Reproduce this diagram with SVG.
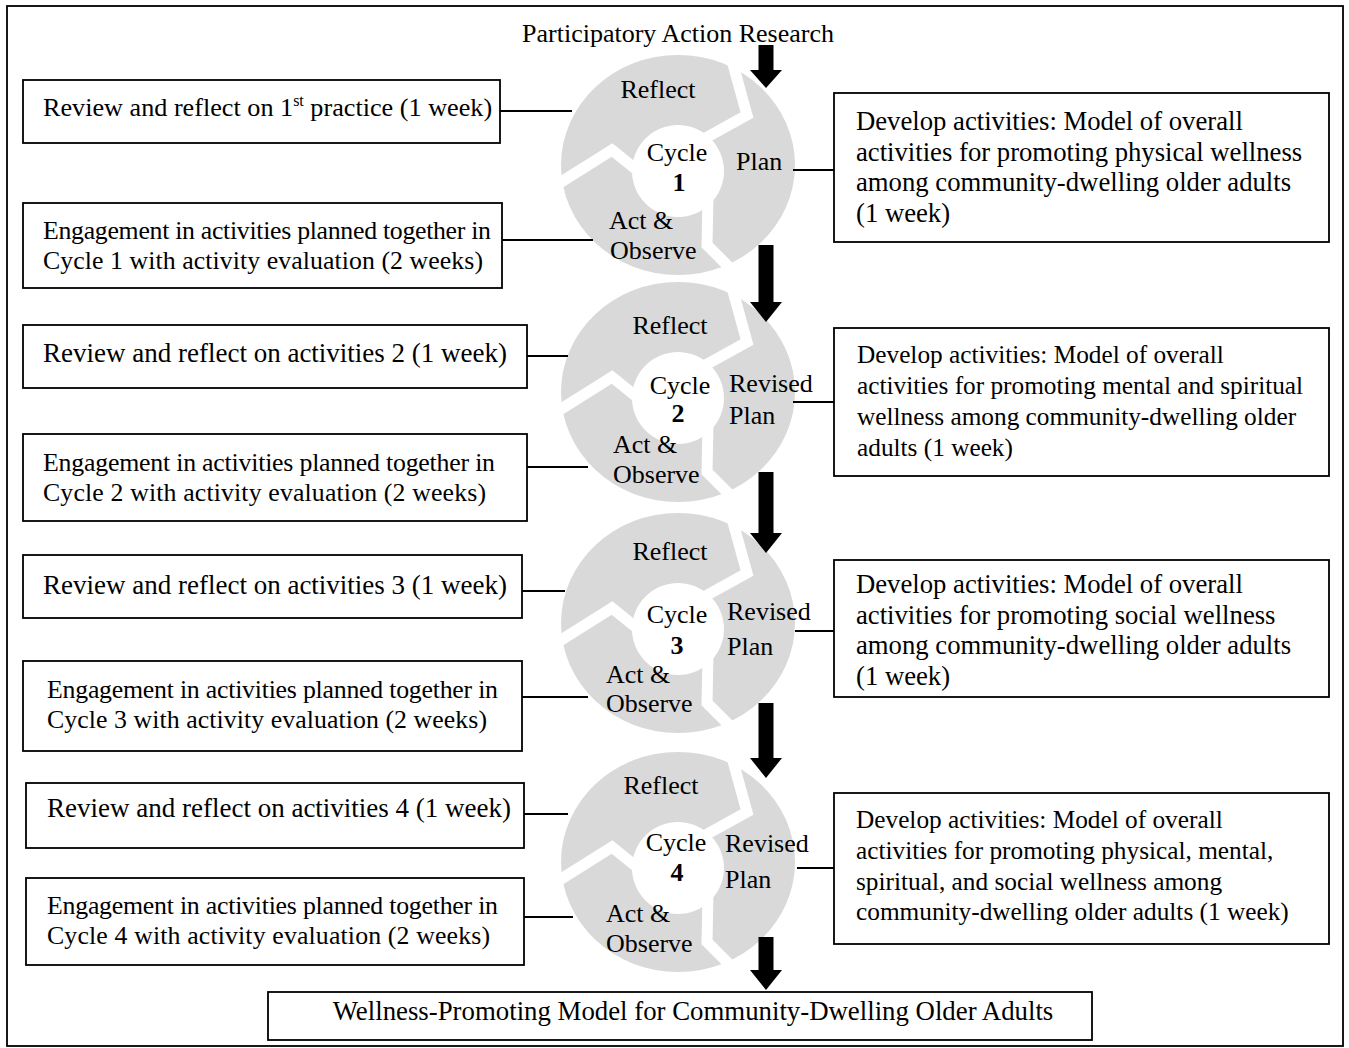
<svg xmlns="http://www.w3.org/2000/svg" xmlns:xlink="http://www.w3.org/1999/xlink" width="1349" height="1048" viewBox="0 0 1349 1048">
<style>
  text { font-family: "Liberation Serif", "Times New Roman", serif; fill: #000; }
  .t { font-size: 26px; }
  .rv { font-size: 27px; }
  .en { font-size: 25.8px; }
  .big { font-size: 26.7px; }
  .sm { font-size: 25.3px; }
  .c { font-size: 26px; }
  .b { font-weight: bold; }
  .box { fill: #fff; stroke: #000; stroke-width: 1.8; }
  .ln { stroke: #000; stroke-width: 1.8; fill: none; }
  .arr { fill: #000; }
  .ring { fill: #d9d9d9; fill-rule: evenodd; }
  .gap { fill: none; stroke: #fff; stroke-width: 11; stroke-linejoin: miter; stroke-miterlimit: 8; }
</style>
<defs>
  <g id="ringShape">
    <path class="ring" d="M -117,-6 A 117,110 0 1,0 117,-6 A 117,110 0 1,0 -117,-6 Z M -46,0 A 46,46 0 1,0 46,0 A 46,46 0 1,0 -46,0 Z"/>
    <polyline class="gap" points="50,-125 69,-56 22,-30"/>
    <polyline class="gap" points="-128,18 -66,-21 -35,4"/>
    <polyline class="gap" points="30,25 29,74 63,108"/>
  </g>
</defs>
<rect x="7" y="6" width="1336" height="1040" fill="#fff" stroke="#000" stroke-width="1.8"/>

<g id="title">
  <text class="t" x="678" y="42" text-anchor="middle" font-size="26.6">Participatory Action Research</text>
</g>

<!-- Cycle 1 -->
<g id="cycle1">
  <use xlink:href="#ringShape" href="#ringShape" transform="translate(678,171)"/>
  <text class="c" x="658" y="98" text-anchor="middle">Reflect</text>
  <text class="c" x="677" y="161" text-anchor="middle">Cycle</text>
  <text class="c b" x="679" y="191" text-anchor="middle">1</text>
  <text class="c" x="736" y="170">Plan</text>
  <text class="c" x="609" y="229">Act &amp;</text>
  <text class="c" x="610" y="259">Observe</text>
</g>
<g id="left1a">
  <rect class="box" x="23" y="80" width="477" height="63"/>
  <text x="43" y="116" font-size="26.2">Review and reflect on 1<tspan font-size="16" dy="-10">st</tspan><tspan dy="10"> practice (1 week)</tspan></text>
</g>
<g id="left1b">
  <rect class="box" x="23" y="203" width="479" height="85"/>
  <text class="en" x="43" y="239" textLength="448">Engagement in activities planned together in</text>
  <text class="en" x="43" y="269" textLength="440">Cycle 1 with activity evaluation (2 weeks)</text>
</g>
<g id="right1">
  <rect class="box" x="834" y="93" width="495" height="149"/>
  <text class="big" x="856" y="130">Develop activities: Model of overall</text>
  <text class="big" x="856" y="161">activities for promoting physical wellness</text>
  <text class="big" x="856" y="191">among community-dwelling older adults</text>
  <text class="big" x="856" y="222">(1 week)</text>
</g>

<!-- Cycle 2 -->
<g id="cycle2">
  <use xlink:href="#ringShape" href="#ringShape" transform="translate(678,398)"/>
  <text class="c" x="670" y="334" text-anchor="middle">Reflect</text>
  <text class="c" x="680" y="394" text-anchor="middle">Cycle</text>
  <text class="c b" x="678" y="422" text-anchor="middle">2</text>
  <text class="c" x="729" y="392">Revised</text>
  <text class="c" x="729" y="424">Plan</text>
  <text class="c" x="613" y="453">Act &amp;</text>
  <text class="c" x="613" y="483">Observe</text>
</g>
<g id="left2a">
  <rect class="box" x="23" y="325" width="504" height="63"/>
  <text class="rv" x="43" y="362">Review and reflect on activities 2 (1 week)</text>
</g>
<g id="left2b">
  <rect class="box" x="23" y="434" width="504" height="87"/>
  <text class="en" x="43" y="471" textLength="452">Engagement in activities planned together in</text>
  <text class="en" x="43" y="501" textLength="443">Cycle 2 with activity evaluation (2 weeks)</text>
</g>
<g id="right2">
  <rect class="box" x="834" y="328" width="495" height="148"/>
  <text class="sm" x="857" y="363">Develop activities: Model of overall</text>
  <text class="sm" x="857" y="394">activities for promoting mental and spiritual</text>
  <text class="sm" x="857" y="425">wellness among community-dwelling older</text>
  <text class="sm" x="857" y="456">adults (1 week)</text>
</g>

<!-- Cycle 3 -->
<g id="cycle3">
  <use xlink:href="#ringShape" href="#ringShape" transform="translate(678,629)"/>
  <text class="c" x="670" y="560" text-anchor="middle">Reflect</text>
  <text class="c" x="677" y="623" text-anchor="middle">Cycle</text>
  <text class="c b" x="677" y="654" text-anchor="middle">3</text>
  <text class="c" x="727" y="620">Revised</text>
  <text class="c" x="727" y="655">Plan</text>
  <text class="c" x="606" y="683">Act &amp;</text>
  <text class="c" x="606" y="712">Observe</text>
</g>
<g id="left3a">
  <rect class="box" x="23" y="555" width="499" height="63"/>
  <text class="rv" x="43" y="594">Review and reflect on activities 3 (1 week)</text>
</g>
<g id="left3b">
  <rect class="box" x="23" y="661" width="499" height="90"/>
  <text class="en" x="47" y="698" textLength="451">Engagement in activities planned together in</text>
  <text class="en" x="47" y="728" textLength="440">Cycle 3 with activity evaluation (2 weeks)</text>
</g>
<g id="right3">
  <rect class="box" x="834" y="560" width="495" height="137"/>
  <text class="big" x="856" y="593">Develop activities: Model of overall</text>
  <text class="big" x="856" y="624">activities for promoting social wellness</text>
  <text class="big" x="856" y="654">among community-dwelling older adults</text>
  <text class="big" x="856" y="685">(1 week)</text>
</g>

<!-- Cycle 4 -->
<g id="cycle4">
  <use xlink:href="#ringShape" href="#ringShape" transform="translate(678,868)"/>
  <text class="c" x="661" y="794" text-anchor="middle">Reflect</text>
  <text class="c" x="676" y="851" text-anchor="middle">Cycle</text>
  <text class="c b" x="677" y="881" text-anchor="middle">4</text>
  <text class="c" x="725" y="852">Revised</text>
  <text class="c" x="725" y="888">Plan</text>
  <text class="c" x="606" y="922">Act &amp;</text>
  <text class="c" x="606" y="952">Observe</text>
</g>
<g id="left4a">
  <rect class="box" x="26" y="783" width="498" height="65"/>
  <text class="rv" x="47" y="817">Review and reflect on activities 4 (1 week)</text>
</g>
<g id="left4b">
  <rect class="box" x="26" y="878" width="498" height="87"/>
  <text class="en" x="47" y="914" textLength="451">Engagement in activities planned together in</text>
  <text class="en" x="47" y="944" textLength="443">Cycle 4 with activity evaluation (2 weeks)</text>
</g>
<g id="right4">
  <rect class="box" x="834" y="793" width="495" height="151"/>
  <text class="sm" x="856" y="828">Develop activities: Model of overall</text>
  <text class="sm" x="856" y="859">activities for promoting physical, mental,</text>
  <text class="sm" x="856" y="890">spiritual, and social wellness among</text>
  <text class="sm" x="856" y="920">community-dwelling older adults (1 week)</text>
</g>

<g id="result">
  <rect class="box" x="268" y="992" width="824" height="48"/>
  <text x="693" y="1020" text-anchor="middle" font-size="26.8">Wellness-Promoting Model for Community-Dwelling Older Adults</text>
</g>

<g id="connectors">
  <line class="ln" x1="500" y1="111" x2="572" y2="111"/>
  <line class="ln" x1="502" y1="240" x2="593" y2="240"/>
  <line class="ln" x1="793" y1="170" x2="834" y2="170"/>
  <line class="ln" x1="527" y1="356" x2="568" y2="356"/>
  <line class="ln" x1="527" y1="467" x2="588" y2="467"/>
  <line class="ln" x1="793" y1="402" x2="834" y2="402"/>
  <line class="ln" x1="522" y1="591" x2="565" y2="591"/>
  <line class="ln" x1="522" y1="697" x2="588" y2="697"/>
  <line class="ln" x1="795" y1="631" x2="834" y2="631"/>
  <line class="ln" x1="524" y1="814" x2="568" y2="814"/>
  <line class="ln" x1="524" y1="917" x2="573" y2="917"/>
  <line class="ln" x1="797" y1="868" x2="834" y2="868"/>
  <path class="arr" d="M758.5,45 H773.5 V70 H782 L766,88 L750,70 H758.5 Z"/>
  <path class="arr" d="M758.5,245 H773.5 V302 H782 L766,322 L750,302 H758.5 Z"/>
  <path class="arr" d="M758.5,472 H773.5 V533 H782 L766,553 L750,533 H758.5 Z"/>
  <path class="arr" d="M758.5,703 H773.5 V758 H782 L766,778 L750,758 H758.5 Z"/>
  <path class="arr" d="M758.5,937 H773.5 V970 H782 L766,990 L750,970 H758.5 Z"/>
</g>
</svg>
